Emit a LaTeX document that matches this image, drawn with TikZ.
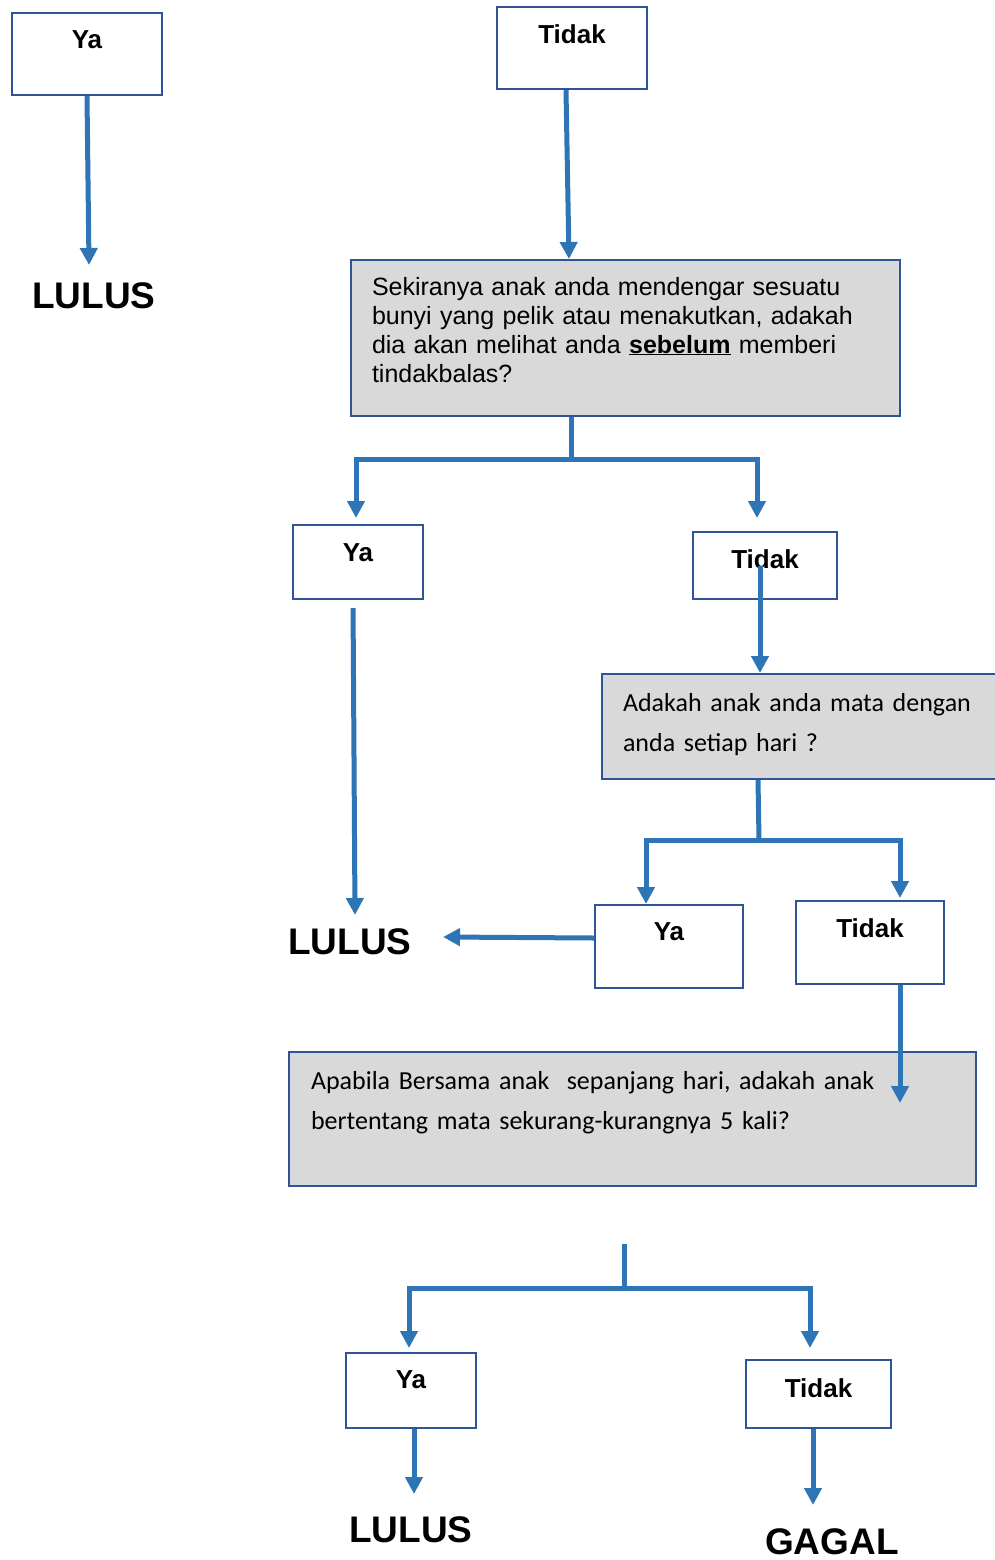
\documentclass[tikz,border=0pt]{standalone}
\usepackage{fontspec}
\setmainfont{Liberation Sans}
\newfontfamily\calfont{Carlito}
\usetikzlibrary{arrows.meta}
\definecolor{linec}{HTML}{2E75B6}
\definecolor{boxc}{HTML}{2F5597}
\definecolor{qfill}{HTML}{D9D9D9}
\tikzset{
  box/.style={draw=boxc, line width=2pt, fill=white, inner sep=0pt, anchor=north west,
    font=\fontsize{26}{30}\selectfont\bfseries},
  qbox/.style={draw=boxc, line width=2pt, fill=qfill, inner ysep=0pt, anchor=north west, align=left},
  res/.style={font=\fontsize{37}{40}\selectfont\bfseries, inner sep=0pt, anchor=base west},
  ln/.style={draw=linec, line width=5pt},
  arr/.style={ln, -{Triangle[length=17pt,width=17pt]}},
}
\begin{document}
\begin{tikzpicture}[x=1pt,y=-1pt]
\useasboundingbox (0,0) rectangle (994,1560);
% boxes
\node[box, minimum width=150pt, text height=36pt, text depth=46pt] (y1) at (11,12) {Ya};
\node[box, minimum width=150pt, text height=37pt, text depth=45pt] (t1) at (496,6) {Tidak};
\node[qbox, inner xsep=21pt, text width=507pt, text height=35pt, text depth=121pt,
  font=\fontsize{25}{29}\selectfont] (q1) at (350,259)
  {Sekiranya anak anda mendengar sesuatu\\bunyi yang pelik atau menakutkan, adakah\\dia akan melihat anda \underline{\textbf{sebelum}} memberi\\tindakbalas?};
\node[box, minimum width=130pt, text height=36pt, text depth=38pt] (y2) at (292,524) {Ya};
\node[box, minimum width=144pt, text height=36pt, text depth=31pt] (t2) at (692,531) {Tidak};
\node[qbox, inner xsep=21pt, text width=370pt, text height=37pt, text depth=68pt,
  font=\calfont\fontsize{26}{40}\selectfont] (q2) at (601,673)
  {Adakah anak anda mata dengan\\anda setiap hari ?};
\node[box, minimum width=148pt, text height=35pt, text depth=48pt] (y3) at (594,904) {Ya};
\node[box, minimum width=148pt, text height=36pt, text depth=47pt] (t3) at (795,900) {Tidak};
\node[qbox, inner xsep=22pt, text width=643pt, text height=37pt, text depth=97pt,
  font=\calfont\fontsize{26}{40}\selectfont] (q3) at (288,1051)
  {Apabila Bersama anak\ \ sepanjang hari, adakah anak\\bertentang mata sekurang-kurangnya 5 kali?};
\node[box, minimum width=130pt, text height=35pt, text depth=40pt] (y4) at (345,1352) {Ya};
\node[box, minimum width=145pt, text height=37pt, text depth=31pt] (t4) at (745,1359) {Tidak};
% results
\node[res] (l1) at (32,308) {LULUS};
\node[res] (l2) at (288,954) {LULUS};
\node[res] (l4) at (349,1542) {LULUS};
\node[res] (g4) at (765,1554) {GAGAL};
% free ends and junctions
\coordinate (e1) at (89,265);
\coordinate (e2) at (355,915);
\coordinate (e3) at (443,937);
\coordinate (e4) at (900,1103);
\coordinate (s5) at (624,1244);
\coordinate (e6) at (414,1494);
\coordinate (e7) at (813,1505);
\coordinate (j1) at (571,459);
\coordinate (j2) at (759,840);
\coordinate (j3) at (624,1288);
% connectors
\draw[arr] (y1.south) -- (e1);
\draw[arr] (t1.south -| 566,0) -- (q1.north -| 569,0);
\draw[ln] (q1.south -| j1) -- (j1);
\draw[arr, shorten >=6pt] (j1) -| (y2.north -| 356,0);
\draw[arr, shorten >=13pt] (j1) -| (t2.north -| 757,0);
\draw[arr, shorten <=8pt] (y2.south -| 353,0) -- (e2);
\draw[arr] (t2.center -| 760,0) -- (q2.north -| 760,0);
\draw[ln] (q2.south -| 758,0) -- (j2);
\draw[arr] (j2) -| (y3.north -| 646,0);
\draw[arr, shorten >=2pt] (j2) -| (t3.north -| 900,0);
\draw[arr] (y3.west |- 0,938) -- (e3);
\draw[arr] (t3.south -| 900,0) -- (e4);
\draw[ln] (s5) -- (j3);
\draw[arr, shorten >=4pt] (j3) -| (y4.north -| 409,0);
\draw[arr, shorten >=11pt] (j3) -| (t4.north -| 810,0);
\draw[arr] (y4.south -| 414,0) -- (e6);
\draw[arr] (t4.south -| 813,0) -- (e7);
\end{tikzpicture}
\end{document}
